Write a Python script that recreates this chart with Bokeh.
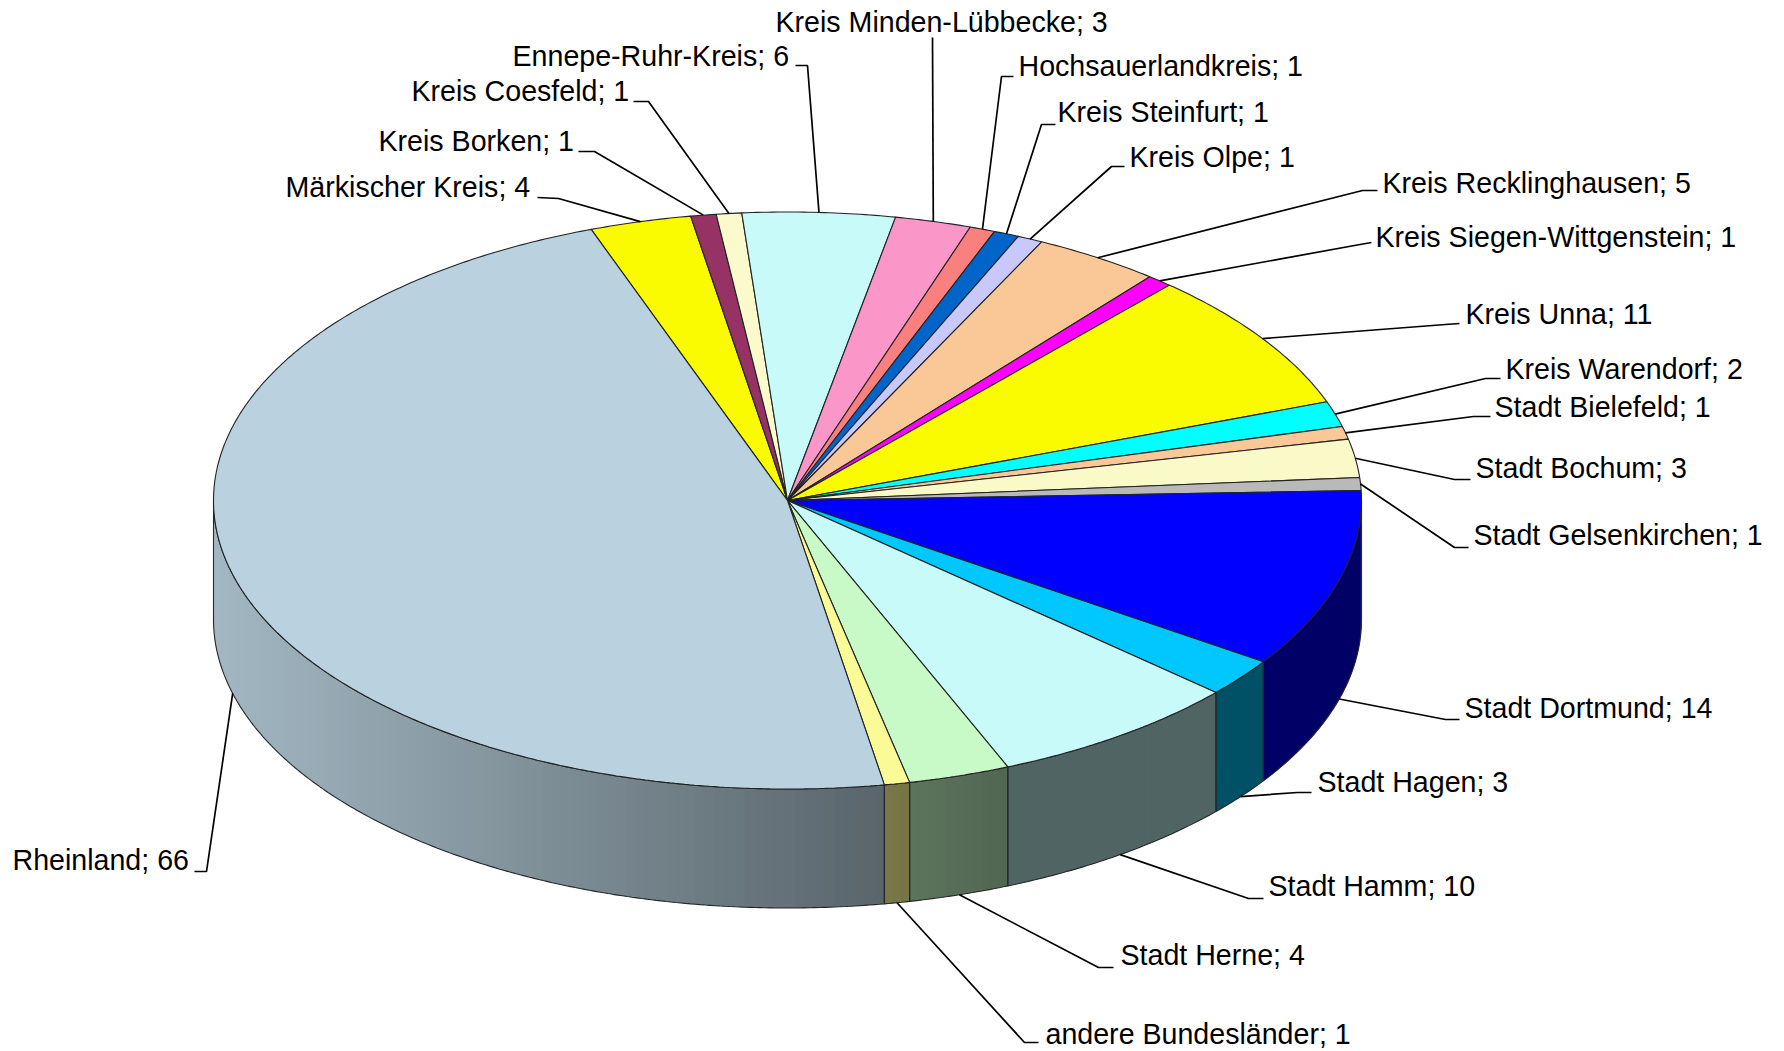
import numpy as np
from bokeh.plotting import figure
from bokeh.models import ColumnDataSource
from bokeh.core.properties import value
from bokeh.embed import file_html
from bokeh.resources import INLINE

# ---- data ----
categories = ["Märkischer Kreis", "Kreis Borken", "Kreis Coesfeld", "Ennepe-Ruhr-Kreis",
              "Kreis Minden-Lübbecke", "Hochsauerlandkreis", "Kreis Steinfurt", "Kreis Olpe",
              "Kreis Recklinghausen", "Kreis Siegen-Wittgenstein", "Kreis Unna", "Kreis Warendorf",
              "Stadt Bielefeld", "Stadt Bochum", "Stadt Gelsenkirchen", "Stadt Dortmund",
              "Stadt Hagen", "Stadt Hamm", "Stadt Herne", "andere Bundesländer", "Rheinland"]
values = [4, 1, 1, 6, 3, 1, 1, 1, 5, 1, 11, 2, 1, 3, 1, 14, 3, 10, 4, 1, 66]
colors = ["#FAFA00", "#963264", "#FAFACD", "#C8FAFA", "#FA96C8", "#FA8080", "#0064C8", "#C8C8FA",
          "#FAC896", "#FF00FF", "#FAFA00", "#00FFFF", "#FAC896", "#FAFAC8", "#B9B9B9", "#0000FF",
          "#00C8FF", "#C8FAFA", "#C8FAC8", "#FAFA96", "#BAD2DF"]

# ---- layout (screen pixels) ----
W, H = 1784, 1051
CX, CY, RX, RY, DEPTH = 787.0, 500.0, 574.0, 288.5, 119.0
START_DEG = -20.0
FONT_PX = "28.6px"
# left edge and vertical centre of each label
label_x = [285, 378, 411, 512, 775, 1018, 1057, 1129, 1382, 1375, 1465, 1505, 1494, 1475, 1473, 1464, 1317, 1268, 1120, 1045, 12]
label_y = [186, 140, 90, 55, 21, 65, 111, 156, 182, 236, 313, 368, 406, 467, 534, 707, 781, 885, 954, 1033, 859]
# short stub beside each label, then the elbow towards the pie
stub_x = [537, 578, 633, 795, 1013, 1013, 1055, 1124, 1377, 1371, 1459, 1500, 1490, 1470, 1468, 1459, 1311, 1263, 1113, 1038, 194]
stub_y = [197, 151, 101, 65, 37, 76, 124, 166, 190, 242, 323, 378, 416, 479, 547, 719, 792, 898, 967, 1042, 871]
elbow_x = [558, 594, 648, 807, 932, 1001, 1041, 1111, 1362, 1354, 1445, 1485, 1473, 1454, 1454, 1445, 1297, 1248, 1098, 1024, 206]
elbow_y = [198, 151, 101, 65, 37, 76, 124, 166, 190, 245, 324, 378, 416, 479, 547, 719, 792, 898, 967, 1042, 871]
stub_x[4] = elbow_x[4]


def ellipse(theta_deg, dz=0.0):
    t = np.radians(theta_deg)
    return CX + RX * np.sin(t), CY - RY * np.cos(t) + dz


def shade(x):
    t = (x - (CX - RX)) / (2 * RX)
    return max(0.40, 0.875 - 0.675 * t)


def rgb_of(hexstr):
    return tuple(int(hexstr[i:i + 2], 16) for i in (1, 3, 5))


fractions = np.array(values, dtype=float) / sum(values) * 360.0
starts = START_DEG + np.concatenate([[0.0], np.cumsum(fractions)[:-1]])
ends = starts + fractions
mids = (starts + ends) / 2

p = figure(width=W, height=H, x_range=(0, W), y_range=(H, 0),
           toolbar_location=None, output_backend="svg", min_border=0)
p.axis.visible = False
p.grid.visible = False
p.outline_line_color = None
p.background_fill_color = "white"

# ---- sides: shaded strips painted with overlap, then outlines ----
sx, sy, sc = [], [], []
ox, oy = [], []
for a, b, col in zip(starts, ends, colors):
    lo, hi = max(a, 90.0), min(b, 270.0)
    if hi <= lo:
        continue
    n = max(1, int(np.ceil((hi - lo) / 1.0)))
    edges = np.linspace(lo, hi, n + 1)
    r, g, bl = rgb_of(col)
    for e0, e1 in zip(edges[:-1], edges[1:]):
        e2 = min(e1 + 0.8, hi)
        arc = np.linspace(e0, e2, 4)
        xs, ys = ellipse(arc)
        f = shade((xs[0] + xs[-1]) / 2)
        sx.append(list(xs) + list(xs[::-1]))
        sy.append(list(ys) + list((ys + DEPTH)[::-1]))
        sc.append("#%02x%02x%02x" % (int(r * f), int(g * f), int(bl * f)))
    th = np.linspace(lo, hi, n * 2 + 1)
    xs, ys = ellipse(th)
    ox.append(list(xs) + list(xs[::-1]))
    oy.append(list(ys) + list((ys + DEPTH)[::-1]))
p.patches("x", "y", source=ColumnDataSource(dict(x=sx, y=sy, c=sc)),
          fill_color="c", line_color=None)
p.patches("x", "y", source=ColumnDataSource(dict(x=ox, y=oy)),
          fill_color=None, line_color="#24282a", line_width=1.1)

# ---- top face ----
tx, ty = [], []
for a, b in zip(starts, ends):
    th = np.linspace(a, b, max(3, int((b - a) * 2) + 1))
    xs, ys = ellipse(th)
    tx.append([CX] + list(xs))
    ty.append([CY] + list(ys))
p.patches("x", "y", source=ColumnDataSource(dict(x=tx, y=ty, c=colors)),
          fill_color="c", line_color="#222222", line_width=1.1)

# ---- leader lines: anchored at each slice's mid-angle ----
lx, ly = [], []
for m, s0, s1, e0, e1 in zip(mids, stub_x, stub_y, elbow_x, elbow_y):
    m_norm = m % 360
    dz = DEPTH if 90 < m_norm < 270 else 0.0
    ax, ay = ellipse(m, dz)
    lx.append([s0, e0, ax])
    ly.append([s1, e1, ay])
p.multi_line("x", "y", source=ColumnDataSource(dict(x=lx, y=ly)), line_color="black", line_width=1.7)

# ---- labels ----
labels = [f"{c}; {v}" for c, v in zip(categories, values)]
p.text("x", "y", text="t", source=ColumnDataSource(dict(x=label_x, y=label_y, t=labels)),
       text_font=value("Liberation Sans"), text_font_size=FONT_PX, text_color="black",
       text_align="left", text_baseline="middle")

open("out.html", "w").write(file_html(p, INLINE))
